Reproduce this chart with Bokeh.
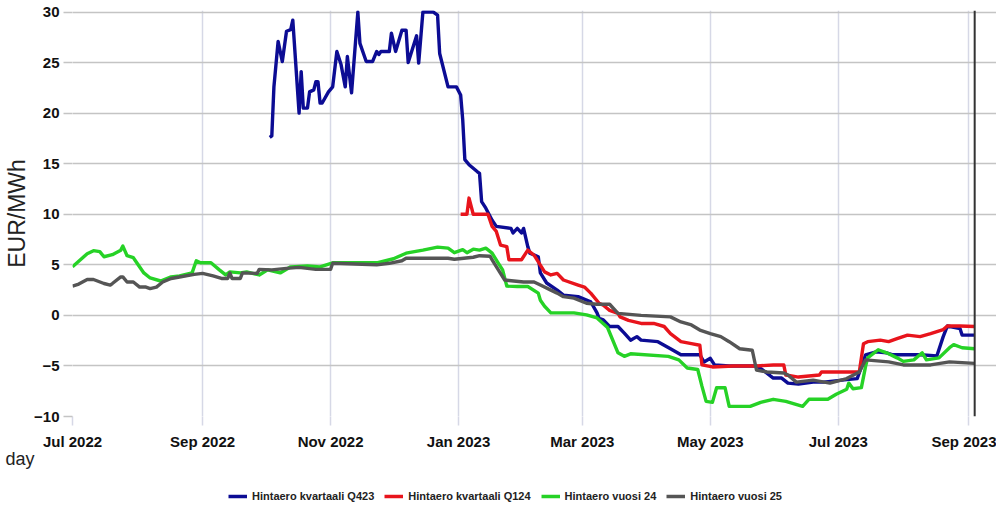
import pandas as pd
from bokeh.plotting import figure
from bokeh.layouts import column
from bokeh.models import (Range1d, FixedTicker, DatetimeTickFormatter, Legend,
                          LegendItem, Span, ColumnDataSource, Title)
from bokeh.embed import file_html
from bokeh.resources import INLINE

# ---------------- data ----------------
q423_dates = ["2022-10-03", "2022-10-04", "2022-10-05", "2022-10-07", "2022-10-09", "2022-10-11",
              "2022-10-13", "2022-10-14", "2022-10-17", "2022-10-18", "2022-10-19", "2022-10-21",
              "2022-10-22", "2022-10-24", "2022-10-25", "2022-10-26", "2022-10-27", "2022-10-28",
              "2022-10-31", "2022-11-02", "2022-11-04", "2022-11-06", "2022-11-08", "2022-11-09",
              "2022-11-11", "2022-11-14", "2022-11-15", "2022-11-18", "2022-11-21", "2022-11-23",
              "2022-11-24", "2022-11-25", "2022-11-29", "2022-11-30", "2022-12-02", "2022-12-05",
              "2022-12-07", "2022-12-08", "2022-12-12", "2022-12-13", "2022-12-15", "2022-12-20",
              "2022-12-22", "2022-12-23", "2022-12-27", "2022-12-31", "2023-01-02", "2023-01-03",
              "2023-01-04", "2023-01-06", "2023-01-10", "2023-01-11", "2023-01-12", "2023-01-14",
              "2023-01-17", "2023-01-19", "2023-01-26", "2023-01-27", "2023-01-29", "2023-01-31",
              "2023-02-01", "2023-02-03", "2023-02-04", "2023-02-08", "2023-02-09", "2023-02-12",
              "2023-02-17", "2023-02-20", "2023-02-27", "2023-03-05", "2023-03-08", "2023-03-09",
              "2023-03-11", "2023-03-14", "2023-03-18", "2023-03-21", "2023-03-24", "2023-03-27",
              "2023-03-29", "2023-04-06", "2023-04-12", "2023-04-17", "2023-04-26", "2023-04-28",
              "2023-05-01", "2023-05-03", "2023-05-10", "2023-05-23", "2023-05-26", "2023-05-31",
              "2023-06-04", "2023-06-07", "2023-06-12", "2023-06-19", "2023-06-24", "2023-07-05",
              "2023-07-10", "2023-07-12", "2023-07-14", "2023-07-19", "2023-07-24", "2023-07-27",
              "2023-08-09", "2023-08-17", "2023-08-20", "2023-08-22", "2023-08-28", "2023-08-29",
              "2023-09-04"]
q423_values = [17.6, 17.75, 22.6, 27.1, 25.1, 28.1,
               28.25, 29.2, 20.0, 24.1, 20.5, 20.5,
               22.1, 22.3, 23.1, 23.1, 21.0, 21.0,
               22.1, 22.6, 26.1, 24.8, 22.6, 25.6,
               22.0, 30.0, 26.9, 25.1, 25.1, 26.1,
               25.8, 26.1, 26.1, 27.9, 26.1, 28.2,
               28.2, 25.0, 27.65, 24.95, 30.0, 30.0,
               29.7, 25.9, 22.6, 22.6, 21.8, 19.3,
               15.4, 14.9, 14.2, 14.05, 11.25, 10.6,
               9.4, 8.8, 8.6, 8.15, 8.6, 8.15,
               8.6, 6.8, 6.15, 5.8, 4.2, 3.2,
               2.5, 2.0, 1.85, 1.35, 0.25, -0.3,
               -0.45, -1.1, -1.1, -1.75, -2.45, -2.1,
               -2.45, -2.6, -3.3, -3.9, -3.9, -4.6,
               -4.25, -4.9, -5.0, -5.0, -5.4, -6.2,
               -6.2, -6.7, -6.8, -6.6, -6.6, -6.35,
               -6.25, -5.1, -3.9, -3.6, -3.7, -3.9,
               -3.9, -4.0, -2.1, -1.05, -1.3, -1.95,
               -1.95]

q124_dates = ["2023-01-02", "2023-01-05", "2023-01-06", "2023-01-08", "2023-01-15", "2023-01-17",
              "2023-01-19", "2023-01-21", "2023-01-24", "2023-01-25", "2023-01-31", "2023-02-03",
              "2023-02-06", "2023-02-11", "2023-02-14", "2023-02-17", "2023-02-20", "2023-02-27",
              "2023-03-02", "2023-03-05", "2023-03-09", "2023-03-11", "2023-03-14", "2023-03-18",
              "2023-03-19", "2023-03-23", "2023-03-29", "2023-04-04", "2023-04-09", "2023-04-12",
              "2023-04-17", "2023-04-22", "2023-04-26", "2023-04-27", "2023-05-02", "2023-05-12",
              "2023-05-23", "2023-05-31", "2023-06-05", "2023-06-06", "2023-06-12", "2023-06-22",
              "2023-06-23", "2023-07-05", "2023-07-11", "2023-07-13", "2023-07-15", "2023-07-21",
              "2023-07-25", "2023-07-29", "2023-08-03", "2023-08-09", "2023-08-14", "2023-08-20",
              "2023-08-22", "2023-08-28", "2023-09-04"]
q124_values = [10.0, 10.0, 11.6, 10.0, 10.0, 8.8,
               8.3, 6.95, 6.8, 5.5, 5.5, 6.45,
               5.95, 4.3, 4.0, 4.15, 3.5, 3.0,
               2.8, 2.2, 1.2, 1.0, 0.5, 0.2,
               -0.15, -0.5, -0.8, -0.8, -1.1, -1.8,
               -2.6, -2.8, -2.95, -4.9, -5.1, -5.0,
               -5.0, -4.9, -4.9, -5.9, -6.1, -5.9,
               -5.6, -5.6, -5.6, -2.8, -2.6, -2.45,
               -2.6, -2.3, -1.95, -2.1, -1.8, -1.4,
               -1.05, -1.05, -1.1]

y24_dates = ["2022-07-01", "2022-07-08", "2022-07-11", "2022-07-14", "2022-07-16", "2022-07-20",
             "2022-07-24", "2022-07-25", "2022-07-27", "2022-07-30", "2022-08-04", "2022-08-07",
             "2022-08-12", "2022-08-17", "2022-08-21", "2022-08-27", "2022-08-29", "2022-08-31",
             "2022-09-05", "2022-09-09", "2022-09-12", "2022-09-14", "2022-09-19", "2022-09-22",
             "2022-09-28", "2022-10-02", "2022-10-08", "2022-10-13", "2022-10-21", "2022-10-27",
             "2022-11-02", "2022-11-15", "2022-11-23", "2022-12-01", "2022-12-07", "2022-12-15",
             "2022-12-22", "2022-12-27", "2022-12-30", "2023-01-03", "2023-01-05", "2023-01-08",
             "2023-01-11", "2023-01-14", "2023-01-17", "2023-01-20", "2023-01-22", "2023-01-24",
             "2023-01-29", "2023-02-03", "2023-02-08", "2023-02-09", "2023-02-11", "2023-02-14",
             "2023-02-25", "2023-03-03", "2023-03-08", "2023-03-13", "2023-03-18", "2023-03-21",
             "2023-03-24", "2023-04-11", "2023-04-16", "2023-04-20", "2023-04-25", "2023-04-27",
             "2023-04-29", "2023-05-02", "2023-05-04", "2023-05-08", "2023-05-10", "2023-05-20",
             "2023-05-25", "2023-05-31", "2023-06-06", "2023-06-14", "2023-06-17", "2023-06-26",
             "2023-06-30", "2023-07-05", "2023-07-06", "2023-07-08", "2023-07-12", "2023-07-14",
             "2023-07-15", "2023-07-20", "2023-07-24", "2023-07-29", "2023-08-01", "2023-08-06",
             "2023-08-10", "2023-08-12", "2023-08-18", "2023-08-23", "2023-08-25", "2023-08-29",
             "2023-09-04"]
y24_values = [4.8, 6.1, 6.4, 6.3, 5.8, 6.0,
              6.45, 6.85, 5.9, 5.7, 4.2, 3.7,
              3.4, 3.8, 3.9, 4.2, 5.4, 5.2,
              5.2, 4.5, 4.0, 4.3, 4.2, 4.3,
              4.0, 4.5, 4.2, 4.8, 4.9, 4.8,
              5.2, 5.2, 5.2, 5.6, 6.15, 6.45,
              6.75, 6.65, 6.2, 6.5, 6.2, 6.55,
              6.45, 6.65, 6.15, 5.15, 4.5, 2.9,
              2.85, 2.85, 2.2, 1.5, 0.9, 0.25,
              0.25, 0.05, -0.25, -1.2, -3.7, -4.05,
              -3.8, -4.05, -4.4, -5.2, -5.35, -7.0,
              -8.5, -8.6, -7.15, -7.15, -9.0, -9.0,
              -8.6, -8.3, -8.5, -9.0, -8.3, -8.3,
              -7.8, -7.3, -6.7, -7.25, -7.15, -5.05,
              -4.2, -3.4, -3.7, -4.2, -4.55, -4.4,
              -3.7, -4.4, -4.2, -3.2, -2.9, -3.2,
              -3.3]

y25_dates = ["2022-07-01", "2022-07-04", "2022-07-08", "2022-07-11", "2022-07-16", "2022-07-19",
             "2022-07-20", "2022-07-24", "2022-07-25", "2022-07-27", "2022-07-30", "2022-08-02",
             "2022-08-05", "2022-08-07", "2022-08-10", "2022-08-13", "2022-08-17", "2022-08-21",
             "2022-08-28", "2022-09-01", "2022-09-06", "2022-09-10", "2022-09-13", "2022-09-14",
             "2022-09-15", "2022-09-19", "2022-09-20", "2022-09-27", "2022-09-28", "2022-10-04",
             "2022-10-11", "2022-10-17", "2022-10-25", "2022-11-01", "2022-11-02", "2022-11-23",
             "2022-11-29", "2022-12-05", "2022-12-07", "2022-12-27", "2022-12-30", "2023-01-08",
             "2023-01-11", "2023-01-16", "2023-01-17", "2023-01-21", "2023-01-23", "2023-01-25",
             "2023-02-01", "2023-02-06", "2023-02-09", "2023-02-14", "2023-02-17", "2023-02-20",
             "2023-02-25", "2023-03-03", "2023-03-08", "2023-03-14", "2023-03-18", "2023-03-29",
             "2023-04-12", "2023-04-17", "2023-04-22", "2023-04-26", "2023-05-01", "2023-05-06",
             "2023-05-10", "2023-05-15", "2023-05-21", "2023-05-23", "2023-05-28", "2023-06-05",
             "2023-06-07", "2023-06-11", "2023-06-19", "2023-06-27", "2023-07-05", "2023-07-11",
             "2023-07-14", "2023-07-25", "2023-08-01", "2023-08-14", "2023-08-23", "2023-09-04"]
y25_values = [2.9, 3.1, 3.55, 3.55, 3.15, 3.0,
              3.15, 3.8, 3.8, 3.3, 3.3, 2.8,
              2.8, 2.65, 2.8, 3.3, 3.65, 3.8,
              4.05, 4.15, 3.9, 3.65, 3.65, 4.2,
              3.65, 3.65, 4.2, 4.15, 4.55, 4.5,
              4.65, 4.75, 4.55, 4.55, 5.15, 5.0,
              5.15, 5.4, 5.65, 5.65, 5.55, 5.75,
              5.9, 5.85, 5.5, 4.15, 3.5, 3.45,
              3.3, 3.3, 3.0, 2.5, 2.2, 1.85,
              1.7, 1.2, 1.1, 1.1, 0.2, 0.0,
              -0.15, -0.65, -0.95, -1.45, -1.8, -2.1,
              -2.6, -3.3, -3.45, -5.4, -5.6, -5.7,
              -5.9, -6.6, -6.4, -6.7, -6.25, -5.6,
              -4.4, -4.6, -4.9, -4.9, -4.6, -4.75]

series_names = ["Hintaero kvartaali Q423", "Hintaero kvartaali Q124",
                "Hintaero vuosi 24", "Hintaero vuosi 25"]
series_colors = ["#0c0c94", "#e8141c", "#26d226", "#555555"]

x_tick_dates = ["2022-07-01", "2022-09-01", "2022-11-01", "2023-01-01",
                "2023-03-01", "2023-05-01", "2023-07-01", "2023-09-01"]
y_ticks = [-10, -5, 0, 5, 10, 15, 20, 25, 30]
marker_date = "2023-09-04"
y_label = "EUR/MWh"
x_label = "day"

# ---------------- main figure ----------------
FONT = "Liberation Sans"


def ms(s):
    return pd.Timestamp(s).value // 10**6


x_start = pd.Timestamp("2022-07-01")
x_end = x_start + pd.Timedelta(days=440.4)

p = figure(width=996, height=484, x_axis_type="datetime",
           output_backend="svg", toolbar_location=None,
           x_range=Range1d(x_start, x_end), y_range=Range1d(-10, 30.15),
           min_border_left=72, min_border_right=0, min_border_top=10,
           min_border_bottom=68)
p.outline_line_color = None
p.background_fill_color = "white"

grid_h = "#c4c4c4"
grid_v = "#d6d8e6"

p.xaxis.ticker = FixedTicker(ticks=[ms(d) for d in x_tick_dates])
p.xaxis.formatter = DatetimeTickFormatter(
    years="%b %Y", months="%b %Y", days="%b %Y", hours="%b %Y",
    minutes="%b %Y", seconds="%b %Y", milliseconds="%b %Y")
p.yaxis.ticker = FixedTicker(ticks=y_ticks)

for ax, col in ((p.xaxis, grid_v), (p.yaxis, grid_h)):
    ax.axis_line_color = None
    ax.major_tick_line_color = col
    ax.major_tick_line_width = 1.5
    ax.major_tick_out = 9
    ax.major_tick_in = 0
    ax.minor_tick_line_color = None
    ax.major_label_text_font = FONT
    ax.major_label_text_font_style = "bold"
    ax.major_label_text_font_size = "15px"
    ax.major_label_text_color = "#111111"
p.xaxis.major_label_standoff = 7
p.yaxis.major_label_standoff = 4

p.yaxis.axis_label = y_label
p.yaxis.axis_label_text_font = FONT
p.yaxis.axis_label_text_font_style = "normal"
p.yaxis.axis_label_text_font_size = "23px"
p.yaxis.axis_label_text_color = "#222222"
p.yaxis.axis_label_standoff = 1

p.xgrid.grid_line_color = grid_v
p.xgrid.grid_line_width = 1.5
p.ygrid.grid_line_color = grid_h
p.ygrid.grid_line_width = 1.5

all_dates = [q423_dates, q124_dates, y24_dates, y25_dates]
all_values = [q423_values, q124_values, y24_values, y25_values]
for col, d, v in zip(series_colors, all_dates, all_values):
    src = ColumnDataSource(dict(x=pd.to_datetime(d), y=v))
    p.line("x", "y", source=src, line_color=col, line_width=3.4,
           line_join="round")

p.add_layout(Span(location=ms(marker_date), dimension="height",
                  line_color="#333333", line_width=2))

p.add_layout(Title(text=x_label, align="left", offset=-67, standoff=-12,
                   text_font=FONT, text_font_style="normal",
                   text_font_size="18px", text_color="#222222"), "below")

# ---------------- legend strip ----------------
lg = figure(width=996, height=24, output_backend="svg", toolbar_location=None,
            x_range=Range1d(0, 1), y_range=Range1d(0, 1),
            x_axis_location=None, y_axis_location=None, min_border=0)
lg.outline_line_color = None
lg.grid.visible = False
items = []
for name, col in zip(series_names, series_colors):
    # legend proxy: placed outside the visible range, only its swatch shows
    r = lg.line(x=[5, 6], y=[5, 6], line_color=col, line_width=3.5)
    items.append(LegendItem(label=name, renderers=[r]))
legend = Legend(items=items, orientation="horizontal", location=(156, 6),
                border_line_color=None, background_fill_alpha=0,
                label_text_font=FONT, label_text_font_style="bold",
                label_text_font_size="11px", label_text_color="#222222",
                glyph_width=19, glyph_height=12, label_height=12,
                spacing=10, padding=0, margin=0, label_standoff=5)
lg.add_layout(legend)

layout = column(p, lg, spacing=0)
open("out.html", "w").write(file_html(layout, INLINE))
